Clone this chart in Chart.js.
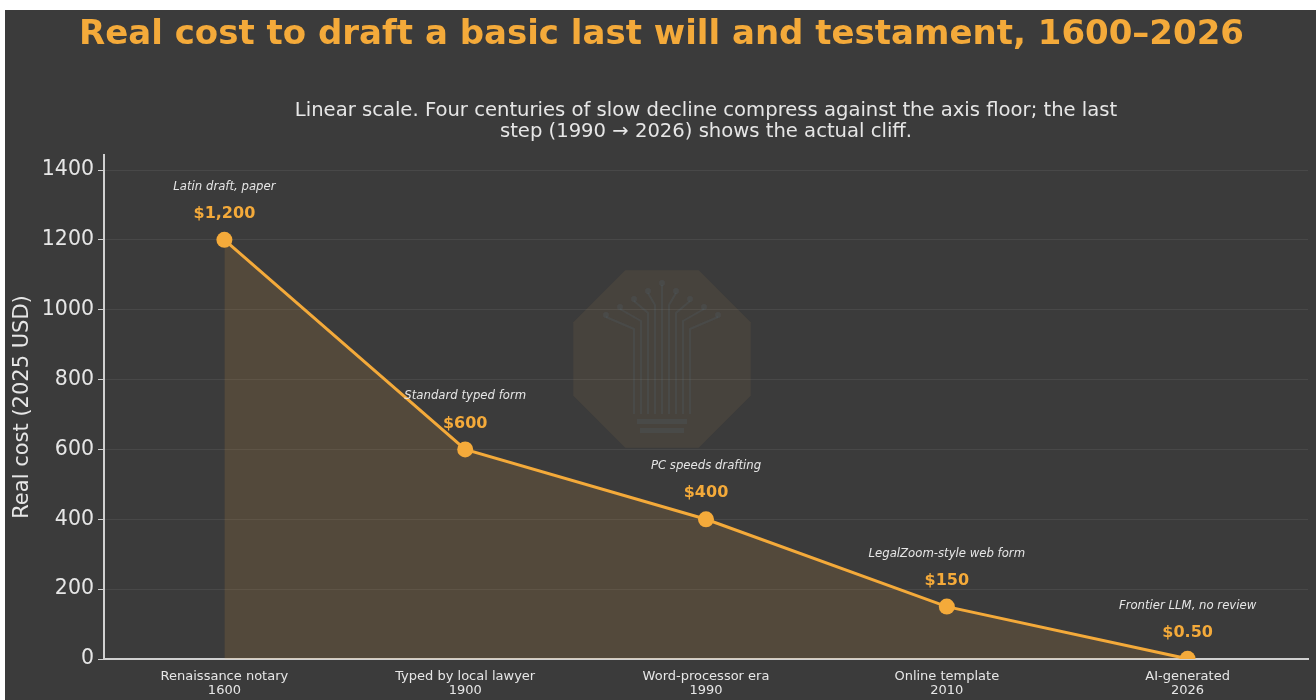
<!DOCTYPE html>
<html>
<head>
<meta charset="utf-8">
<script src="https://cdn.jsdelivr.net/npm/chart.js@4.4.1/dist/chart.umd.min.js"></script>
<style>
  html, body { margin: 0; padding: 0; background: #ffffff; }
  #wrap { position: absolute; left: 5px; top: 10px; width: 1311px; height: 690px; background: #3b3b3b; }
  canvas { display: block; }
</style>
</head>
<body>
<div id="wrap"><canvas id="chart" width="1311" height="690"></canvas></div>
<script>
// --- Data ---
const categories = [
  ['Renaissance notary', '1600'],
  ['Typed by local lawyer', '1900'],
  ['Word-processor era', '1990'],
  ['Online template', '2010'],
  ['AI-generated', '2026']
]
const costs = [1200, 600, 400, 150, 0.5]
const valueLabels = ['$1,200', '$600', '$400', '$150', '$0.50']
const notes = [
  'Latin draft, paper',
  'Standard typed form',
  'PC speeds drafting',
  'LegalZoom-style web form',
  'Frontier LLM, no review'
]
const yTicks = [0, 200, 400, 600, 800, 1000, 1200, 1400]
const yMax = 1443

const ORANGE = '#f4aa3a'
const TEXT = '#e6e6e6'
const FONT = '"DejaVu Sans", sans-serif'

// faint logo behind the plot
const watermark = {
  id: 'watermark',
  beforeDatasetsDraw(chart) {
    const { ctx } = chart
    const cx = 657
    const cy = 349
    const r = 96
    ctx.save()
    ctx.beginPath()
    for (let i = 0; i < 8; i++) {
      const a = Math.PI / 8 + i * Math.PI / 4
      const px = cx + r * Math.cos(a)
      const py = cy + r * Math.sin(a)
      if (i === 0) ctx.moveTo(px, py)
      else ctx.lineTo(px, py)
    }
    ctx.closePath()
    ctx.fillStyle = 'rgba(170, 135, 80, 0.11)'
    ctx.fill()
    // circuit tree
    ctx.strokeStyle = 'rgba(90, 110, 130, 0.16)'
    ctx.fillStyle = 'rgba(90, 110, 130, 0.16)'
    ctx.lineWidth = 2
    for (let i = -4; i <= 4; i++) {
      const top = cy - 30 - (4 - Math.abs(i)) * 8
      ctx.beginPath()
      ctx.moveTo(cx + i * 7, cy + 55)
      ctx.lineTo(cx + i * 7, top)
      ctx.lineTo(cx + i * 14, top - 12)
      ctx.stroke()
      ctx.beginPath()
      ctx.arc(cx + i * 14, top - 14, 3, 0, Math.PI * 2)
      ctx.fill()
    }
    ctx.fillRect(cx - 25, cy + 60, 50, 5)
    ctx.fillRect(cx - 22, cy + 69, 44, 5)
    ctx.restore()
  }
}

// title, subtitle and point notes
const labels = {
  id: 'labels',
  afterDatasetsDraw(chart) {
    const { ctx, chartArea } = chart
    ctx.save()
    ctx.textAlign = 'center'
    ctx.textBaseline = 'middle'

    ctx.fillStyle = ORANGE
    ctx.font = 'bold 34px ' + FONT
    ctx.fillText('Real cost to draft a basic last will and testament, 1600\u20132026', chart.width / 2 + 1, 25)

    const mid = (chartArea.left + chartArea.right) / 2
    ctx.fillStyle = TEXT
    ctx.font = '19.6px ' + FONT
    ctx.fillText('Linear scale. Four centuries of slow decline compress against the axis floor; the last', mid, 101)
    ctx.fillText('step (1990 \u2192 2026) shows the actual cliff.', mid, 122)

    const meta = chart.getDatasetMeta(0)
    meta.data.forEach((pt, i) => {
      ctx.fillStyle = ORANGE
      ctx.font = 'bold 16px ' + FONT
      ctx.fillText(valueLabels[i], pt.x, pt.y - 26)
      ctx.fillStyle = TEXT
      ctx.font = 'italic 11.7px ' + FONT
      ctx.fillText(notes[i], pt.x, pt.y - 53)
    })
    ctx.restore()
  }
}

const ctx = document.getElementById('chart').getContext('2d')
new Chart(ctx, {
  type: 'line',
  data: {
    labels: categories,
    datasets: [{
      data: costs,
      borderColor: ORANGE,
      backgroundColor: 'rgba(244, 170, 58, 0.13)',
      borderWidth: 3,
      pointRadius: 8,
      pointHoverRadius: 8,
      pointBackgroundColor: ORANGE,
      pointBorderWidth: 0,
      fill: 'origin',
      tension: 0
    }]
  },
  options: {
    responsive: false,
    animation: false,
    layout: { padding: { top: 145, left: 0, right: 8, bottom: 0 } },
    plugins: {
      legend: { display: false },
      tooltip: { enabled: false }
    },
    scales: {
      x: {
        offset: true,
        grid: { display: false, drawTicks: false },
        border: { display: true, color: '#d0d0d0', width: 2 },
        ticks: {
          color: TEXT,
          font: { family: FONT, size: 13, lineHeight: 1.1 },
          padding: 10,
          maxRotation: 0
        },
        afterFit(scale) { scale.height = 41 }
      },
      y: {
        min: 0,
        max: yMax,
        grid: {
          color: 'rgba(255, 255, 255, 0.07)',
          tickColor: '#d0d0d0',
          tickLength: 6
        },
        border: { display: true, color: '#d0d0d0', width: 2 },
        ticks: {
          color: TEXT,
          font: { family: FONT, size: 20.5 },
          padding: 4,
          callback: v => String(v)
        },
        afterBuildTicks(scale) {
          scale.ticks = yTicks.map(v => ({ value: v }))
        },
        title: {
          display: true,
          text: 'Real cost (2025 USD)',
          color: TEXT,
          font: { family: FONT, size: 21 },
          padding: { top: 5, bottom: 0 }
        },
        afterFit(scale) { scale.width = 99 }
      }
    }
  },
  plugins: [watermark, labels]
})
</script>
</body>
</html>
